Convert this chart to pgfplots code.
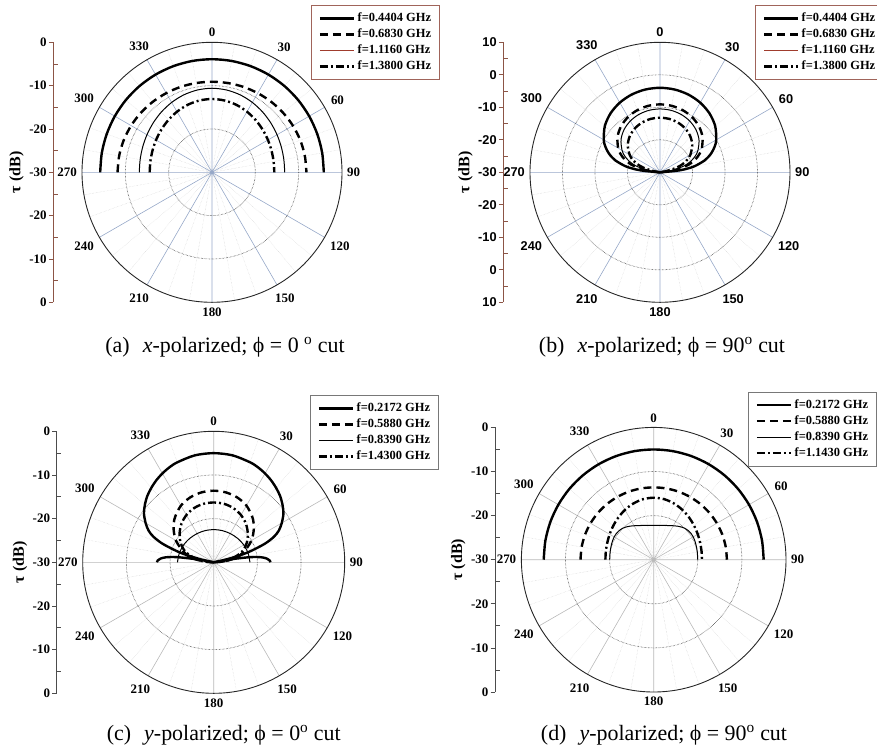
\documentclass[border=0pt]{standalone}
\usepackage{fontspec}
\setmainfont{Liberation Serif}
\setsansfont{Liberation Sans}
\usepackage{pgfplots}
\pgfplotsset{compat=1.18}
\usepgfplotslibrary{polar}

\definecolor{gridblue}{RGB}{150,168,200}
\definecolor{gridgray}{RGB}{185,185,185}
\definecolor{rulerbrown}{RGB}{140,85,70}
\definecolor{thinred}{RGB}{160,60,45}
\definecolor{legbrown}{RGB}{160,100,90}
\definecolor{leggray}{RGB}{120,120,120}

\newcommand\tickfont{\fontsize{13}{15}\selectfont\bfseries}
\newcommand\tickfontsans{\fontsize{12.8}{15}\selectfont\sffamily\bfseries}
\newcommand\legfont{\fontsize{12.5}{14}\selectfont\bfseries}
\newcommand\labfont{\fontsize{16}{18}\selectfont\bfseries}
\newcommand\capfont{\fontsize{22}{25}\selectfont}

\pgfplotsset{
  mypolar/.style={
    scale only axis, width=#1, height=#1, anchor=center,
    xtick={0,30,...,330},
    xticklabels={90,60,30,0,330,300,270,240,210,180,150,120},
    minor x tick num=2,
    xmajorgrids, xminorgrids, ymajorgrids,
    major x grid style={gridblue, line width=0.6bp},
    minor x grid style={gridgray!70, densely dotted, line width=0.4bp},
    major y grid style={black!75, densely dotted, line width=0.7bp},
    major tick length=0pt, minor tick length=0pt,
    yticklabels={},
    x axis line style={black!85, line width=0.9bp},
    y axis line style={draw=none},
    xticklabel style={font=\tickfont, inner sep=5bp},
    ymin=0,
    x filter/.expression={90-x},
    y filter/.expression={y+30},
    clip=false,
    legend image code/.code={\draw[##1] (0bp,0bp) -- (34bp,0bp);},
    legend cell align=left,
    legend style={anchor=north east, font=\legfont, fill=white, line width=0.8bp,
      inner xsep=7bp, inner ysep=5bp, row sep=0bp, column sep=1bp,
      nodes={inner sep=1.5bp, text height=9.5bp, text depth=3.5bp}},
  },
  ruler/.style={
    scale only axis, width=20bp, height=#1, anchor=west,
    xmin=0, xmax=1,
    axis x line=none, axis y line=left,
    axis line style={rulerbrown, line width=0.8bp, -},
    tick align=outside, ytick pos=left,
    major tick length=4.5bp, minor tick length=4.5bp,
    minor y tick num=1,
    every tick/.style={rulerbrown, line width=0.8bp},
    minor tick style={xshift=4.5bp},
    yticklabel style={font=\tickfont, inner sep=2bp},
    ylabel={τ (dB)}, ylabel style={font=\labfont},
  },
  thickline/.style={black, line width=2.4bp},
  dashline/.style={black, line width=2.4bp, dash pattern=on 8bp off 5bp},
  thinline/.style={black, line width=1bp},
  dotline/.style={black, line width=2.4bp, dash pattern=on 8bp off 3bp on 2bp off 3bp},
}

\begin{document}
\begin{tikzpicture}
\useasboundingbox (0,0) rectangle (877bp,-754bp);

% ================= (a) =================
\begin{axis}[ruler=260bp, at={(53.3bp,-172.3bp)}, ymin=-30, ymax=30,
  ytick={-30,-20,...,30}, yticklabels={0,-10,-20,-30,-20,-10,0}]
\end{axis}
\begin{polaraxis}[mypolar=260bp, at={(212bp,-172.3bp)}, ymax=30, ytick={10,20},
  legend style={at={(axis description cs:1.377,1.1435)}, draw=legbrown}]
\addlegendimage{thickline}\addlegendentry{f=0.4404 GHz}
\addlegendimage{dashline}\addlegendentry{f=0.6830 GHz}
\addlegendimage{thinred, line width=1bp}\addlegendentry{f=1.1160 GHz}
\addlegendimage{dotline}\addlegendentry{f=1.3800 GHz}
\addplot[thickline, smooth, forget plot] coordinates {(-90,-4.20)(-80,-4.18)(-70,-4.15)(-60,-4.10)(-50,-4.05)(-40,-4.00)(-30,-3.96)(-20,-3.93)(-10,-3.91)(0,-3.90)(10,-3.91)(20,-3.93)(30,-3.96)(40,-4.00)(50,-4.05)(60,-4.10)(70,-4.15)(80,-4.18)(90,-4.20)};
\addplot[dashline, smooth, forget plot] coordinates {(-90,-8.20)(-80,-8.24)(-70,-8.32)(-60,-8.45)(-50,-8.60)(-40,-8.75)(-30,-8.90)(-20,-9.00)(-10,-9.08)(0,-9.10)(10,-9.08)(20,-9.00)(30,-8.90)(40,-8.75)(50,-8.60)(60,-8.45)(70,-8.32)(80,-8.24)(90,-8.20)};
\addplot[thinline, smooth, forget plot] coordinates {(-90,-13.22)(-80,-13.16)(-70,-12.97)(-60,-12.67)(-50,-12.28)(-40,-11.83)(-30,-11.38)(-20,-10.98)(-10,-10.71)(0,-10.60)(10,-10.71)(20,-10.98)(30,-11.38)(40,-11.83)(50,-12.28)(60,-12.67)(70,-12.97)(80,-13.16)(90,-13.22)};
\addplot[dotline, smooth, forget plot] coordinates {(-90,-15.62)(-80,-15.56)(-70,-15.38)(-60,-15.09)(-50,-14.72)(-40,-14.29)(-30,-13.85)(-20,-13.45)(-10,-13.18)(0,-13.08)(10,-13.18)(20,-13.45)(30,-13.85)(40,-14.29)(50,-14.72)(60,-15.09)(70,-15.38)(80,-15.56)(90,-15.62)};
\end{polaraxis}

% ================= (b) =================
\begin{axis}[ruler=260bp, at={(503.3bp,-172.3bp)}, ymin=-40, ymax=40,
  ytick={-40,-30,...,40}, yticklabels={10,0,-10,-20,-30,-20,-10,0,10},
  yticklabel style={font=\tickfontsans}]
\end{axis}
\begin{polaraxis}[mypolar=260bp, at={(660bp,-172.3bp)}, ymax=40, ytick={10,20,30},
  xticklabel style={font=\tickfontsans},
  legend style={at={(axis description cs:1.362,1.1435)}, draw=legbrown}]
\addlegendimage{thickline}\addlegendentry{f=0.4404 GHz}
\addlegendimage{dashline}\addlegendentry{f=0.6830 GHz}
\addlegendimage{thinred, line width=1bp}\addlegendentry{f=1.1160 GHz}
\addlegendimage{dotline}\addlegendentry{f=1.3800 GHz}
\addplot[thickline, smooth, forget plot] coordinates {(-88,-30)(-87,-29.62)(-85,-25.19)(-83,-22.28)(-80,-19.21)(-75,-15.74)(-70,-13.32)(-65,-11.48)(-60,-10.02)(-50,-7.84)(-40,-6.32)(-30,-5.25)(-20,-4.54)(-10,-4.13)(0,-4.00)(10,-4.13)(20,-4.54)(30,-5.25)(40,-6.32)(50,-7.84)(60,-10.02)(65,-11.48)(70,-13.32)(75,-15.74)(80,-19.21)(83,-22.28)(85,-25.19)(87,-29.62)(88,-30)};
\addplot[dashline, smooth, forget plot] coordinates {(-85,-30)(-84,-28.72)(-83,-27.38)(-80,-24.31)(-75,-20.84)(-70,-18.42)(-65,-16.58)(-60,-15.12)(-50,-12.94)(-40,-11.42)(-30,-10.35)(-20,-9.64)(-10,-9.23)(0,-9.10)(10,-9.23)(20,-9.64)(30,-10.35)(40,-11.42)(50,-12.94)(60,-15.12)(65,-16.58)(70,-18.42)(75,-20.84)(80,-24.31)(83,-27.38)(84,-28.72)(85,-30)};
\addplot[thinline, smooth, forget plot] coordinates {(-84,-30)(-83,-28.78)(-80,-25.71)(-75,-22.24)(-70,-19.82)(-65,-17.98)(-60,-16.52)(-50,-14.34)(-40,-12.82)(-30,-11.75)(-20,-11.04)(-10,-10.63)(0,-10.50)(10,-10.63)(20,-11.04)(30,-11.75)(40,-12.82)(50,-14.34)(60,-16.52)(65,-17.98)(70,-19.82)(75,-22.24)(80,-25.71)(83,-28.78)(84,-30)};
\addplot[dotline, smooth, forget plot] coordinates {(-82,-30)(-81,-29.31)(-80,-28.41)(-75,-24.94)(-70,-22.52)(-65,-20.68)(-60,-19.22)(-50,-17.04)(-40,-15.52)(-30,-14.45)(-20,-13.74)(-10,-13.33)(0,-13.20)(10,-13.33)(20,-13.74)(30,-14.45)(40,-15.52)(50,-17.04)(60,-19.22)(65,-20.68)(70,-22.52)(75,-24.94)(80,-28.41)(81,-29.31)(82,-30)};
\end{polaraxis}

% ================= (c) =================
\begin{axis}[ruler=262bp, at={(56.7bp,-562.3bp)}, ymin=-30, ymax=30,
  ytick={-30,-20,...,30}, yticklabels={0,-10,-20,-30,-20,-10,0},
  axis line style={black!70, line width=0.8bp, -}, every tick/.style={black!70, line width=0.8bp}]
\end{axis}
\begin{polaraxis}[mypolar=262bp, at={(213.7bp,-562.3bp)}, ymax=30, ytick={10,20},
  major x grid style={gridgray, line width=0.6bp},
  legend style={at={(axis description cs:1.36,1.1385)}, draw=leggray}]
\addlegendimage{thickline}\addlegendentry{f=0.2172 GHz}
\addlegendimage{dashline}\addlegendentry{f=0.5880 GHz}
\addlegendimage{thinline}\addlegendentry{f=0.8390 GHz}
\addlegendimage{dotline}\addlegendentry{f=1.4300 GHz}
\addplot[thickline, smooth, tension=0.5, forget plot] coordinates {(-90,-17.00)(-88,-17.20)(-86,-17.80)(-84,-19.00)(-82,-21.50)(-80,-26.00)(-78.5,-30)(-77,-27.00)(-75,-23.60)(-73,-21.00)(-70,-17.50)(-67,-15.00)(-64,-13.40)(-60,-12.00)(-55,-10.50)(-50,-9.44)(-45,-8.50)(-40,-7.76)(-35,-7.08)(-30,-6.50)(-25,-6.00)(-20,-5.63)(-10,-5.13)(0,-5.00)(10,-5.13)(20,-5.63)(25,-6.00)(30,-6.50)(35,-7.08)(40,-7.76)(45,-8.50)(50,-9.44)(55,-10.50)(60,-12.00)(64,-13.40)(67,-15.00)(70,-17.50)(73,-21.00)(75,-23.60)(77,-27.00)(78.5,-30)(80,-26.00)(82,-21.50)(84,-19.00)(86,-17.80)(88,-17.20)(90,-17.00)};
\addplot[dashline, smooth, forget plot] coordinates {(-90,-30)(-85,-27.8)(-80,-25.5)(-75,-23.8)(-70,-22.5)(-65,-21.3)(-60,-20.0)(-55,-19.0)(-50,-18.0)(-45,-17.1)(-40,-16.3)(-30,-15.0)(-20,-14.2)(-10,-13.75)(0,-13.6)(10,-13.75)(20,-14.2)(30,-15.0)(40,-16.3)(45,-17.1)(50,-18.0)(55,-19.0)(60,-20.0)(65,-21.3)(70,-22.5)(75,-23.8)(80,-25.5)(85,-27.8)(90,-30)};
\addplot[thinline, smooth, forget plot] coordinates {(-90,-21.70)(-75,-21.85)(-60,-22.05)(-45,-22.25)(-30,-22.40)(-15,-22.48)(0,-22.50)(15,-22.48)(30,-22.40)(45,-22.25)(60,-22.05)(75,-21.85)(90,-21.70)};
\addplot[dotline, smooth, forget plot] coordinates {(-90,-30)(-85,-27.8)(-80,-26.0)(-70,-23.2)(-60,-21.3)(-50,-19.8)(-40,-18.5)(-30,-17.5)(-20,-16.8)(-10,-16.4)(0,-16.3)(10,-16.4)(20,-16.8)(30,-17.5)(40,-18.5)(50,-19.8)(60,-21.3)(70,-23.2)(80,-26.0)(85,-27.8)(90,-30)};
\end{polaraxis}

% ================= (d) =================
\begin{axis}[ruler=264.6bp, at={(495bp,-559.7bp)}, ymin=-30, ymax=30,
  ytick={-30,-20,...,30}, yticklabels={0,-10,-20,-30,-20,-10,0},
  axis line style={black!70, line width=0.8bp, -}, every tick/.style={black!70, line width=0.8bp}]
\end{axis}
\begin{polaraxis}[mypolar=264.6bp, at={(653.7bp,-559.7bp)}, ymax=30, ytick={10,20},
  major x grid style={gridgray, line width=0.6bp},
  legend style={at={(axis description cs:1.344,1.135)}, draw=leggray}]
\addlegendimage{thickline}\addlegendentry{f=0.2172 GHz}
\addlegendimage{dashline}\addlegendentry{f=0.5880 GHz}
\addlegendimage{thinline}\addlegendentry{f=0.8390 GHz}
\addlegendimage{dotline}\addlegendentry{f=1.1430 GHz}
\addplot[thickline, smooth, forget plot] coordinates {(-90,-5.06)(-80,-5.06)(-70,-5.05)(-60,-5.04)(-50,-5.03)(-40,-5.02)(-30,-5.01)(-20,-5.00)(-10,-5.00)(0,-5.00)(10,-5.00)(20,-5.00)(30,-5.01)(40,-5.02)(50,-5.03)(60,-5.04)(70,-5.05)(80,-5.06)(90,-5.06)};
\addplot[dashline, smooth, forget plot] coordinates {(-90,-13.40)(-80,-13.41)(-70,-13.43)(-60,-13.46)(-50,-13.49)(-40,-13.52)(-30,-13.55)(-20,-13.57)(-10,-13.59)(0,-13.60)(10,-13.59)(20,-13.57)(30,-13.55)(40,-13.52)(50,-13.49)(60,-13.46)(70,-13.43)(80,-13.41)(90,-13.40)};
\addplot[thinline, smooth, forget plot] coordinates {(-90,-20.02)(-80,-19.96)(-75,-19.90)(-70,-19.82)(-65,-19.72)(-60,-19.65)(-55,-19.65)(-50,-19.75)(-45,-19.95)(-40,-20.30)(-35,-20.70)(-30,-21.11)(-25,-21.46)(-20,-21.74)(-10,-22.10)(0,-22.20)(10,-22.10)(20,-21.74)(25,-21.46)(30,-21.11)(35,-20.70)(40,-20.30)(45,-19.95)(50,-19.75)(55,-19.65)(60,-19.65)(65,-19.72)(70,-19.82)(75,-19.90)(80,-19.96)(90,-20.02)};
\addplot[dotline, smooth, forget plot] coordinates {(-90,-19.05)(-80,-18.98)(-70,-18.79)(-60,-18.46)(-50,-18.03)(-40,-17.51)(-30,-16.96)(-20,-16.45)(-10,-16.07)(0,-15.94)(10,-16.07)(20,-16.45)(30,-16.96)(40,-17.51)(50,-18.03)(60,-18.46)(70,-18.79)(80,-18.98)(90,-19.05)};
\end{polaraxis}

% ================= captions =================
\node[font=\capfont] at (225bp,-347bp) {(a)\hspace{0.6em}\textit{x}-polarized; ϕ = 0 \textsuperscript{o} cut};
\node[font=\capfont] at (662bp,-347bp) {(b)\hspace{0.6em}\textit{x}-polarized; ϕ = 90\textsuperscript{o} cut};
\node[font=\capfont] at (223.7bp,-735bp) {(c)\hspace{0.6em}\textit{y}-polarized; ϕ = 0\textsuperscript{o} cut};
\node[font=\capfont] at (664bp,-735bp) {(d)\hspace{0.6em}\textit{y}-polarized; ϕ = 90\textsuperscript{o} cut};
\end{tikzpicture}
\end{document}
